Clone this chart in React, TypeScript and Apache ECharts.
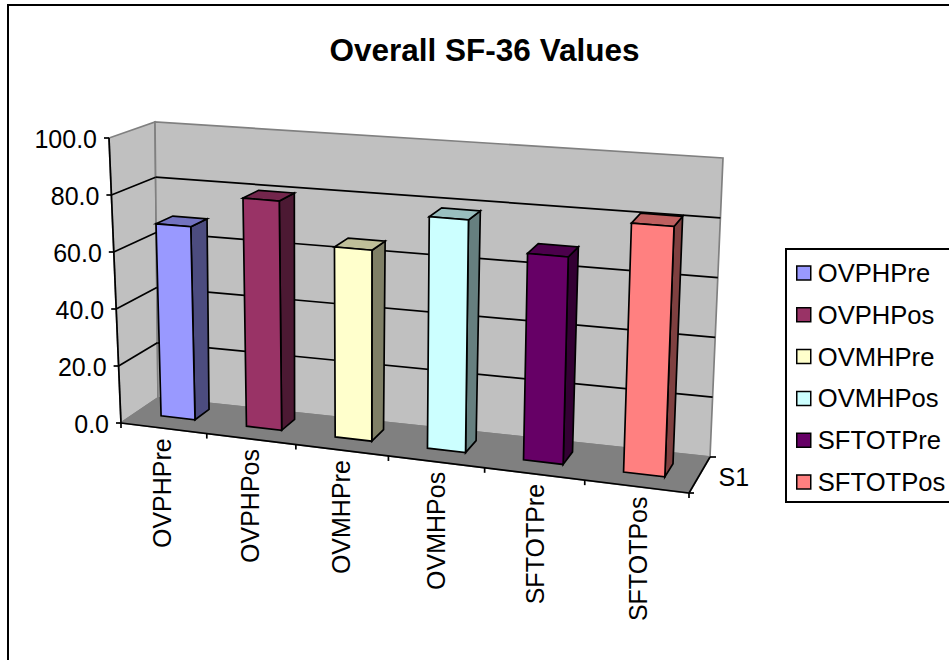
import React, { useEffect, useRef } from "react";
import * as echarts from "echarts";

const titleText = "Overall SF-36 Values";
const categories = ["OVPHPre", "OVPHPos", "OVMHPre", "OVMHPos", "SFTOTPre", "SFTOTPos"];
const values = [68, 79.7, 65.5, 78.7, 69.2, 82.3];
const valueTicks = [0, 20, 40, 60, 80, 100];
const depthLabel = "S1";
const frontColors = ["#9999FF", "#993366", "#FFFFCC", "#CCFFFF", "#660066", "#FF8080"];
const topColors = ["#7373BF", "#73264C", "#BFBF99", "#99BFBF", "#4C004C", "#BF6060"];
const sideColors = ["#4C4C7F", "#4C1933", "#7F7F66", "#667F7F", "#330033", "#7F4040"];

const FONT = '"Liberation Sans", Arial, sans-serif';
const GRID = { left: 100, top: 100, width: 600, height: 400 };
// Corners of the 3D box on screen: front/back, left/right, bottom/top
const FL0 = [121, 423], FL1 = [109, 138], FR0 = [689, 493], FR1 = [701, 184];
const BL0 = [158, 398], BL1 = [155, 122], BR0 = [710, 457], BR1 = [723, 158];
const PERSPECTIVE = 1.124;
const BAR_HALF = 0.2; // share of a category band
const BAR_W0 = [0.41, 0.34], BAR_W1 = [0.81, 0.71];

const mix = (a: number[], b: number[], k: number) => [a[0] + (b[0] - a[0]) * k, a[1] + (b[1] - a[1]) * k];
function project(t: number, v: number, w: number) {
  const u = t <= 0 ? 0 : t / (t + (1 - t) * PERSPECTIVE);
  const front = mix(mix(FL0, FR0, u), mix(FL1, FR1, u), v);
  const back = mix(mix(BL0, BR0, u), mix(BL1, BR1, u), v);
  return mix(front, back, w);
}
const poly = (points: number[][], fill: string, stroke: string, lineWidth = 1.7) => ({
  type: "polygon",
  shape: { points },
  style: { fill, stroke, lineWidth, lineJoin: "miter" },
});
const line = (a: number[], b: number[], stroke = "#000", lineWidth = 1.7) => ({
  type: "line",
  shape: { x1: a[0], y1: a[1], x2: b[0], y2: b[1] },
  style: { stroke, lineWidth },
});
const label = (text: string, x: number, y: number, align: string, rotation = 0) => ({
  type: "text",
  x,
  y,
  rotation,
  style: {
    text,
    fill: "#000",
    font: `25px ${FONT}`,
    align,
    verticalAlign: "middle",
    textAlign: align,
    textVerticalAlign: "middle",
  },
});

function renderWalls(params: any) {
  if (params.dataIndex !== 0) return null;
  return {
    type: "group",
    children: [
      poly([project(0, 0, 0), project(0, 1, 0), project(0, 1, 1), project(0, 0, 1)], "#C0C0C0", "#808080"),
      poly([project(0, 0, 1), project(0, 1, 1), project(1, 1, 1), project(1, 0, 1)], "#C0C0C0", "#808080"),
      poly([project(0, 0, 0), project(1, 0, 0), project(1, 0, 1), project(0, 0, 1)], "#808080", "#808080"),
    ],
  };
}

function renderValueTick(params: any, api: any) {
  const g = params.coordSys;
  const value = api.value(1);
  const v = (g.y + g.height - api.coord([0, value])[1]) / g.height;
  const front = project(0, v, 0);
  const children: any[] = [];
  if (value > 0 && value < valueTicks[valueTicks.length - 1]) {
    children.push(line(front, project(0, v, 1)), line(project(0, v, 1), project(1, v, 1)));
  }
  children.push(line(front, [front[0] - 5, front[1]]));
  children.push(label(value.toFixed(1), front[0] - 12, front[1] + 0.8, "right"));
  return { type: "group", children };
}

function renderCategoryAxis(params: any, api: any) {
  const g = params.coordSys;
  const i = api.value(0);
  const band = api.size([1, 0])[0];
  const center = (api.coord([i, 0])[0] - g.x) / g.width;
  const edge = center + band / 2 / g.width;
  const a = project(edge, 0, 0);
  const c = project(center, 0, 0);
  const children: any[] = [line(a, [a[0], a[1] + 5])];
  if (i === 0) {
    children.push(line(FL0, FR0), line(FR0, BR0));
    children.push(line(FL0, [FL0[0], FL0[1] + 5]));
    children.push(line(FL1, FL0));
    children.push(line(FR0, [FR0[0] + 5, FR0[1]]), line(BR0, [BR0[0] + 6, BR0[1]]));
    const mid = mix(FR0, BR0, 0.5);
    children.push(label(depthLabel, mid[0] + 19, mid[1] + 2, "left"));
  }
  children.push(label(categories[i], c[0] - 1.5 + 3 * center, c[1] + 10, "right", Math.PI / 2));
  return { type: "group", children };
}

function renderBar(params: any, api: any) {
  const g = params.coordSys;
  const i = api.value(0);
  const top = api.coord([i, api.value(1)]);
  const base = api.coord([i, 0]);
  const half = api.size([1, 0])[0] * BAR_HALF;
  const t0 = (top[0] - half - g.x) / g.width;
  const t1 = (top[0] + half - g.x) / g.width;
  const v = (base[1] - top[1]) / g.height;
  const k = (t0 + t1) / 2;
  const w0 = BAR_W0[0] + (BAR_W0[1] - BAR_W0[0]) * k;
  const w1 = BAR_W1[0] + (BAR_W1[1] - BAR_W1[0]) * k;
  const stroke = "#000";
  return {
    type: "group",
    children: [
      poly([project(t1, 0, w0), project(t1, v, w0), project(t1, v, w1), project(t1, 0, w1)], sideColors[i], stroke),
      poly([project(t0, v, w0), project(t0, v, w1), project(t1, v, w1), project(t1, v, w0)], topColors[i], stroke),
      poly([project(t0, 0, w0), project(t0, v, w0), project(t1, v, w0), project(t1, 0, w0)], frontColors[i], stroke),
    ],
  };
}

export default function App() {
  const ref = useRef<HTMLDivElement>(null);
  useEffect(() => {
    const chart = echarts.init(ref.current!, undefined, { renderer: "svg" });
    chart.setOption({
      animation: false,
      backgroundColor: "#fff",
      graphic: [
        {
          type: "rect",
          shape: { x: 8, y: 5, width: 1400, height: 1000 },
          style: { fill: "none", stroke: "#000", lineWidth: 2 },
          silent: true,
        },
        {
          type: "text",
          x: 484.5,
          y: 50,
          style: {
            text: titleText,
            fill: "#000",
            font: `bold 31.5px ${FONT}`,
            align: "center",
            verticalAlign: "middle",
            textAlign: "center",
            textVerticalAlign: "middle",
          },
        },
      ],
      legend: {
        orient: "vertical",
        left: 786,
        top: 249,
        padding: [11, 60, 7, 10],
        itemGap: 15.8,
        itemWidth: 14,
        itemHeight: 14,
        icon: "rect",
        selectedMode: false,
        borderColor: "#000",
        borderWidth: 2,
        backgroundColor: "#fff",
        itemStyle: { borderColor: "#000", borderWidth: 1.5 },
        textStyle: { color: "#000", fontFamily: FONT, fontSize: 25.6, padding: [0, 0, 0, 2] },
        data: categories,
      },
      grid: { ...GRID },
      xAxis: { type: "category", data: categories, show: false },
      yAxis: { type: "value", min: 0, max: 100, interval: 20, show: false },
      series: [
        { type: "custom", name: "walls", z: 1, silent: true, renderItem: renderWalls, data: [[0, 0]], encode: { x: 0, y: 1 } },
        { type: "custom", name: "valueAxis", z: 2, silent: true, renderItem: renderValueTick, data: valueTicks.map((v) => [0, v]), encode: { x: 0, y: 1 } },
        { type: "custom", name: "categoryAxis", z: 3, silent: true, renderItem: renderCategoryAxis, data: categories.map((_, i) => [i, 0]), encode: { x: 0, y: 1 } },
        ...categories.map((name, i) => ({
          type: "custom",
          name,
          z: 4,
          silent: true,
          itemStyle: { color: frontColors[i] },
          renderItem: renderBar,
          data: [[i, values[i]]],
          encode: { x: 0, y: 1 },
        })),
      ],
    });
    return () => chart.dispose();
  }, []);
  return <div ref={ref} style={{ position: "absolute", left: 0, top: 0, width: 949, height: 660 }} />;
}
